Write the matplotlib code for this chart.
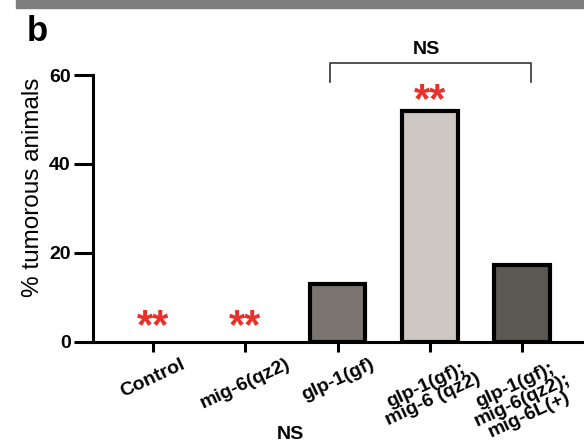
import numpy as np
import matplotlib.pyplot as plt
from matplotlib.patches import Rectangle

plt.rcParams['font.family'] = ['Liberation Sans', 'DejaVu Sans']

# Dados
categorias = ['Control', 'mig-6(qz2)', 'glp-1(gf)', 'glp-1(gf);\nmig-6 (qz2)',
              'glp-1(gf);\nmig-6(qz2);\nmig-6L(+)']
valores = [0, 0, 13, 52, 17.3]
cores = ['white', 'white', '#7a7571', '#cdc8c4', '#5c5854']
signif = ['**', '**', '', '**', '']
yticks = [0, 20, 40, 60]

x = np.arange(len(categorias))

fig = plt.figure(figsize=(5.84, 4.44), dpi=100)
ax = fig.add_axes([0.159, 0.230, 0.841, 0.601])

for i in range(len(categorias)):
    if valores[i] > 0:
        ax.bar(x[i], valores[i], width=0.6, color=cores[i], edgecolor='black',
               linewidth=3, zorder=2)

# asteriscos vermelhos
for i, s in enumerate(signif):
    if s:
        y_s = valores[i] + 2.2 if valores[i] > 0 else 3.4
        ax.text(x[i], y_s, s, color='#e8312a', fontsize=30, fontweight='bold',
                ha='center', va='center', clip_on=False)

# colchete NS
bx0, bx1 = 1.92, 4.10
ax.plot([bx0, bx0, bx1, bx1], [58.4, 62.6, 62.6, 58.4], color='#333333',
        linewidth=1.2, clip_on=False)
ax.text((bx0 + bx1) / 2 - 0.05, 65.8, 'NS', fontsize=14, fontweight='bold',
        ha='center', va='center', clip_on=False)

ax.set_xlim(-0.65, 4.67)
ax.set_ylim(0, 60)
ax.set_yticks(yticks)
ax.set_yticklabels([str(v) for v in yticks], fontsize=14, fontweight='bold')
ax.set_xticks(x)
ax.set_xticklabels(categorias, rotation=25, fontsize=14, fontweight='bold',
                   ha='center', va='top', multialignment='center',
                   linespacing=0.95)
ax.set_ylabel('% tumorous animals', fontsize=17.5)
ax.yaxis.set_label_coords(-0.100, 0.58)

for s in ['top', 'right']:
    ax.spines[s].set_visible(False)
for s in ['left', 'bottom']:
    ax.spines[s].set_linewidth(2.2)
ax.tick_params(axis='both', width=2.2, length=7, pad=3)
ax.tick_params(axis='y', length=14, pad=2)

# faixa cinza e rotulos
fig.patches.append(Rectangle((0.027, 0.982), 0.973, 0.018, transform=fig.transFigure,
                             color='#7f7f7f', zorder=0))
fig.text(0.045, 0.928, 'b', fontsize=25, fontweight='bold', ha='left', va='center')
fig.text(0.497, 0.022, 'NS', fontsize=14, fontweight='bold', ha='center', va='center')

fig.savefig('out.png', dpi=100)
